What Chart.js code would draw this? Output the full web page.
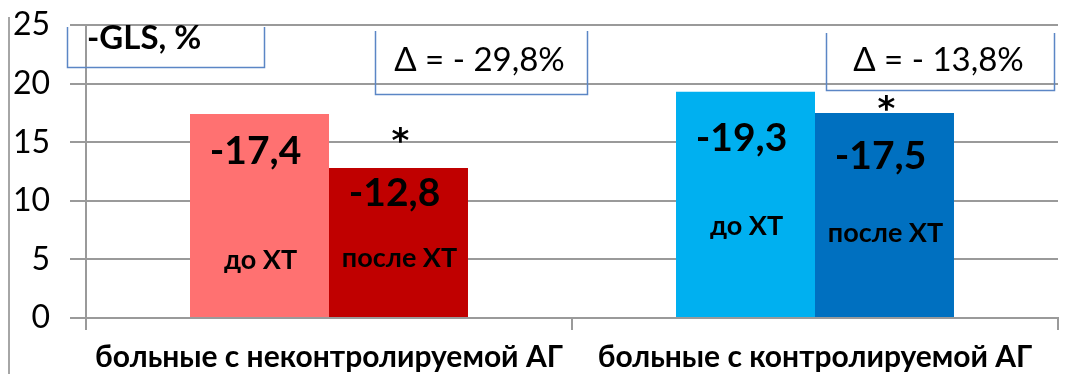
<!DOCTYPE html>
<html>
<head>
<meta charset="utf-8">
<script src="https://cdn.jsdelivr.net/npm/chart.js@4"></script>
<style>
  html, body { margin: 0; padding: 0; background: #fff; }
  #wrap { width: 1076px; height: 374px; }
</style>
</head>
<body>
<div id="wrap"><canvas id="glsChart" width="1076" height="374"></canvas></div>
<script>
// -GLS, % before and after chemotherapy
const groups = ['больные с неконтролируемой АГ', 'больные с контролируемой АГ'];
const phases = ['до ХТ', 'после ХТ'];
const glsBefore = [17.4, 19.3];
const glsAfter = [12.8, 17.5];
const deltaPct = [-29.8, -13.8];
const yTicks = [0, 5, 10, 15, 20, 25];

const FONT = 'Lato';
const GRID = '#9a9a9a';
const BOX = '#5b86c5';

function comma(v) {
    return v.toFixed(1).replace('.', ',');
}

// text centred on its real ink box
function inkText(ctx, str, x, y, font, align) {
    ctx.font = font;
    const m = ctx.measureText(str);
    const h = m.actualBoundingBoxAscent + m.actualBoundingBoxDescent;
    ctx.textBaseline = 'alphabetic';
    ctx.textAlign = align || 'center';
    ctx.fillText(str, x, y - h / 2 + m.actualBoundingBoxAscent);
}

function openBox(ctx, x1, y1, x2, y2) {
    ctx.beginPath();
    ctx.moveTo(x1, y1);
    ctx.lineTo(x1, y2);
    ctx.lineTo(x2, y2);
    ctx.lineTo(x2, y1);
    ctx.stroke();
}

const labelsPlugin = {
    id: 'labels',
    afterDatasetsDraw(chart) {
        const ctx = chart.ctx;
        const y = chart.scales.y;
        ctx.save();
        ctx.fillStyle = '#000';

        // drop of the value label below the bar top, px
        const valueDrop = [[39, 48], [27, 45]];
        // height of the phase caption, in axis units
        const phaseAt = [[4.8, 7.7], [5.2, 7.3]];
        // asterisk rise above the "after" bar
        const starRise = [33, 10];

        chart.data.datasets.forEach((ds, d) => {
            const meta = chart.getDatasetMeta(d);
            meta.data.forEach((bar, i) => {
                inkText(ctx, '-' + comma(ds.data[i]), bar.x - 4, bar.y + valueDrop[d][i], 'bold 39px ' + FONT);
                inkText(ctx, phases[d], bar.x + 1, y.getPixelForValue(phaseAt[d][i]), 'bold 27px ' + FONT);
                if (d === 1) {
                    inkText(ctx, '*', bar.x + 2, bar.y - starRise[i], 'bold 34px "DejaVu Sans"');
                }
            });
        });

        // text boxes
        ctx.strokeStyle = BOX;
        ctx.lineWidth = 1.5;
        openBox(ctx, 67.5, 27, 264.5, 67.5);
        inkText(ctx, '-GLS, %', 87, 39, 'bold 33px ' + FONT, 'left');

        const boxes = [[375.5, 31, 587.5, 94.5], [826.5, 33, 1054.5, 90.5]];
        deltaPct.forEach((p, i) => {
            const b = boxes[i];
            openBox(ctx, b[0], b[1], b[2], b[3]);
            inkText(ctx, 'Δ = - ' + comma(Math.abs(p)) + '%', (b[0] + b[2]) / 2 - 2, 61, '33px ' + FONT);
        });

        // frame edge on the left
        ctx.strokeStyle = '#a6a6a6';
        ctx.lineWidth = 2;
        ctx.beginPath();
        ctx.moveTo(9, 17);
        ctx.lineTo(9, 374);
        ctx.stroke();
        ctx.restore();
    }
};

const data = {
    labels: groups,
    datasets: [
        {
            label: phases[0],
            data: glsBefore,
            backgroundColor: ['#ff7171', '#00b0f0']
        },
        {
            label: phases[1],
            data: glsAfter,
            backgroundColor: ['#c00000', '#0070c0']
        }
    ]
};

const config = {
    type: 'bar',
    data: data,
    options: {
        responsive: false,
        animation: false,
        events: [],
        layout: { padding: { left: 0, right: 18, top: 25, bottom: 0 } },
        datasets: { bar: { categoryPercentage: 0.572, barPercentage: 1.0 } },
        plugins: {
            legend: { display: false },
            tooltip: { enabled: false }
        },
        scales: {
            x: {
                afterFit: s => { s.height = 56; },
                grid: { drawOnChartArea: false, tickLength: 12, color: GRID, lineWidth: 2, offset: true },
                border: { display: true, color: GRID, width: 2 },
                ticks: { color: '#000', padding: 9, font: { family: FONT, size: 30, weight: 'bold' } }
            },
            y: {
                min: 0,
                max: 25,
                afterFit: s => { s.width = 86; },
                afterBuildTicks: s => { s.ticks = yTicks.map(v => ({ value: v })); },
                grid: { color: GRID, lineWidth: 2, tickLength: 16 },
                border: { display: true, color: GRID, width: 2 },
                // small lineHeight keeps the top label from pushing the plot down
                ticks: { color: '#000', padding: 20, font: { family: FONT, size: 32, lineHeight: 0.3 } }
            }
        }
    },
    plugins: [labelsPlugin]
};

const glsChart = new Chart(document.getElementById('glsChart'), config);
</script>
</body>
</html>
